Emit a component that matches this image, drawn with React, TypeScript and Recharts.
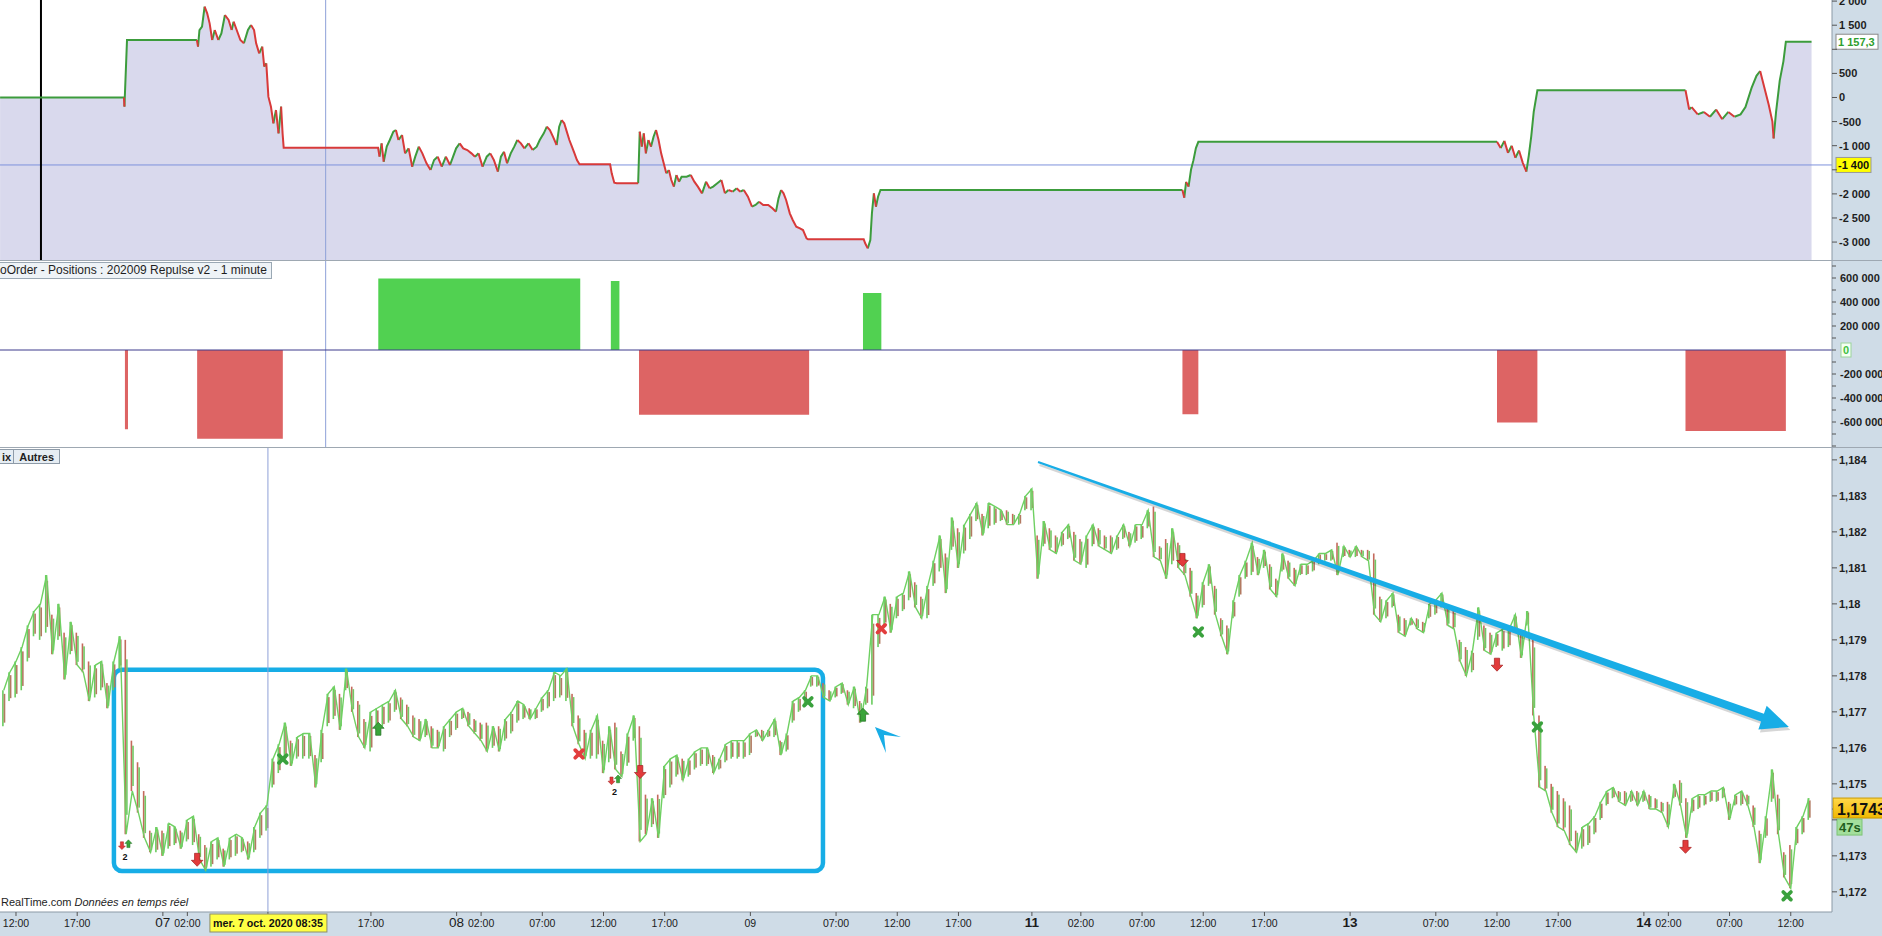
import React from 'react';
import {
  ComposedChart, Area, Line, Bar, Scatter, XAxis, YAxis,
  ReferenceLine, ReferenceArea, ReferenceDot,
} from 'recharts';

const FONT = "Arial, 'Liberation Sans', sans-serif";
const AXBG = '#cfdce7';
const T_MIN = -1.307;
const T_MAX = 148.37;

// ---- time axis (hours since Tue 6 Oct 12:00, weekend removed) ----
const xTickT = [0, 5, 12, 14, 20.583, 29, 36, 38, 43, 48, 53, 60, 67, 72, 77, 83, 87, 92, 97, 102, 109, 116, 121, 126, 133, 135, 140, 145];
const xTickLabels = ['12:00', '17:00', '07', '02:00', 'mer. 7 oct. 2020 08:35', '17:00', '08', '02:00', '07:00', '12:00', '17:00', '09', '07:00', '12:00', '17:00', '11', '02:00', '07:00', '12:00', '17:00', '13', '07:00', '12:00', '17:00', '14', '02:00', '07:00', '12:00'];
const xTickKinds = ['t', 't', 'd', 't', 'c', 't', 'd', 't', 't', 't', 't', 'n', 't', 't', 't', 'b', 't', 't', 't', 't', 'b', 't', 't', 't', 'b', 't', 't', 't'];

// ---- equity curve [hour, value] ----
const equityPts: [number, number][] = [
  [-1.3, 0], [8.82, 0], [8.86, -190], [9.07, 1193],
  [14.78, 1193], [14.87, 1055], [14.99, 1400], [15.2, 1470], [15.41, 1885], [15.62, 1746], [15.82, 1539], [16.03, 1193], [16.24, 1400], [16.53, 1193], [16.78, 1331], [17.07, 1712], [17.37, 1608], [17.62, 1400], [17.78, 1573], [18.03, 1400], [18.33, 1193], [18.62, 1124], [18.95, 1400], [19.2, 1504], [19.45, 1400], [19.62, 1124], [19.87, 916], [20.12, 1055], [20.28, 640], [20.45, 709], [20.62, 17], [20.83, -190], [21.03, -536], [21.24, -260], [21.45, -744], [21.66, -190], [21.78, -744], [21.87, -1041],
  [29.58, -1041], [29.7, -1228], [29.87, -951], [30.04, -1332], [30.29, -1020], [30.54, -882], [30.83, -709], [31.04, -675], [31.25, -882], [31.54, -778], [31.79, -1159], [32.08, -1055], [32.37, -1436], [32.62, -1228], [32.91, -1020], [33.2, -1159], [33.54, -1366], [33.87, -1505], [34.16, -1297], [34.45, -1228], [34.79, -1436], [35.12, -1228], [35.46, -1401], [35.71, -1228], [35.96, -1055], [36.25, -951], [36.54, -1055], [36.87, -1090], [37.21, -1159], [37.5, -1228], [37.79, -1159], [38.12, -1436], [38.46, -1228], [38.75, -1159], [39.04, -1297], [39.37, -1539], [39.62, -1228], [39.87, -1124], [40.12, -1366], [40.42, -1159], [40.71, -1020], [40.96, -882], [41.25, -951], [41.54, -1055], [41.87, -951], [42.21, -1090], [42.54, -1020], [42.79, -882], [43.12, -744], [43.37, -605], [43.62, -675], [43.87, -813], [44.17, -986], [44.38, -605], [44.58, -467], [44.79, -536], [45.0, -709], [45.21, -882], [45.42, -1020], [45.63, -1159], [45.83, -1297], [46.04, -1387],
  [48.54, -1387], [48.67, -1574], [48.88, -1767], [49.08, -1781],
  [50.83, -1781], [50.96, -709], [51.13, -1020], [51.29, -744], [51.46, -1159], [51.67, -882], [51.88, -1020], [52.09, -813], [52.29, -675], [52.5, -882], [52.71, -1159], [52.92, -1366], [53.13, -1574], [53.34, -1505], [53.54, -1712], [53.75, -1850], [53.96, -1608], [54.17, -1747], [54.38, -1643], [54.79, -1643], [55.13, -1608], [55.42, -1747], [55.71, -1850], [56.05, -1989], [56.38, -1747], [56.67, -1885], [56.96, -1850], [57.3, -1781], [57.63, -1712], [57.92, -1989], [58.21, -1920], [58.55, -1954], [58.88, -1885], [59.17, -1954], [59.46, -1920], [59.8, -2058], [60.13, -2266], [60.42, -2231], [60.71, -2162], [61.05, -2231], [61.46, -2231], [61.8, -2300], [62.09, -2369], [62.3, -2093], [62.51, -1920], [62.71, -1989], [62.92, -2127], [63.22, -2404], [63.46, -2542], [63.75, -2681], [64.05, -2715], [64.3, -2750], [64.59, -2923], [64.71, -2943],
  [69.26, -2943], [69.38, -3026], [69.59, -3130], [69.8, -2957], [69.93, -2404], [70.09, -1989], [70.26, -2266], [70.43, -2058], [70.63, -1920],
  [95.3, -1920], [95.45, -2080], [95.6, -1750], [95.8, -1850], [96.0, -1500], [96.2, -1300], [96.4, -1050], [96.6, -920],
  [121.0, -920], [121.3, -1050], [121.6, -900], [121.9, -1150], [122.2, -1000], [122.5, -1250], [122.8, -1100], [123.1, -1350], [123.4, -1540], [123.6, -1200], [123.8, -800], [124.0, -300], [124.3, 150],
  [136.4, 150], [136.7, -250], [136.9, -200], [137.4, -350], [137.9, -300], [138.4, -400], [138.9, -250], [139.4, -450], [139.9, -300], [140.4, -400], [140.9, -350], [141.3, -200], [141.8, 200], [142.2, 450], [142.5, 550], [142.8, 250], [143.2, -150], [143.5, -500], [143.6, -850], [143.8, -300], [144.1, 350], [144.4, 750], [144.6, 1157.3],
  [146.7, 1157.3],
];
const eqTicks = [-3000, -2500, -2000, -1500, -1000, -500, 0, 500, 1000, 1500, 2000];
const eqLast = 1157.3;
const eqRef = -1400;

// ---- positions [start hour, end hour, size] ----
const positions: [number, number, number][] = [
  [8.9, 9.15, -660000],
  [14.8, 21.8, -740000],
  [29.6, 46.1, 595000],
  [48.6, 49.3, 575000],
  [50.9, 64.8, -540000],
  [69.2, 70.7, 475000],
  [95.3, 96.6, -535000],
  [121.0, 124.3, -605000],
  [136.4, 144.6, -675000],
];
const posTicks = [-800000, -700000, -600000, -500000, -400000, -300000, -200000, -100000, 0, 100000, 200000, 300000, 400000, 500000, 600000, 700000];

// ---- price: half-hour [low, high] starting at hour -1 ----
const PRICE_T0 = -1;
const PRICE_STEP = 0.5;
const priceRanges: [number, number][] = [
  [1.1766, 1.1776], [1.1773, 1.1781], [1.1774, 1.1784], [1.1776, 1.1788], [1.1784, 1.1794], [1.1791, 1.1798], [1.179, 1.18], [1.1792, 1.1808], [1.1786, 1.1797], [1.179, 1.18],
  [1.1779, 1.1792], [1.1786, 1.1795], [1.1783, 1.1792], [1.1781, 1.1789], [1.1773, 1.1784], [1.1774, 1.1783], [1.1776, 1.1784], [1.1771, 1.1778], [1.1776, 1.1784], [1.1782, 1.1791],
  [1.1736, 1.179], [1.1748, 1.1762], [1.1742, 1.1756], [1.1735, 1.1748], [1.1731, 1.1737], [1.1731, 1.1738], [1.173, 1.1737], [1.1732, 1.1739], [1.1733, 1.1738], [1.1732, 1.1737],
  [1.1734, 1.174], [1.1733, 1.1741], [1.1729, 1.1736], [1.1726, 1.1733], [1.1727, 1.1734], [1.1729, 1.1735], [1.1727, 1.1732], [1.1729, 1.1735], [1.173, 1.1736], [1.1731, 1.1735],
  [1.1729, 1.1734], [1.1731, 1.1738], [1.1735, 1.1742], [1.1737, 1.1744], [1.1749, 1.1757], [1.1753, 1.1761], [1.1756, 1.1767], [1.1755, 1.1762], [1.1757, 1.1763], [1.1757, 1.1764],
  [1.1757, 1.1764], [1.1749, 1.1758], [1.1756, 1.1765], [1.1766, 1.1775], [1.1768, 1.1777], [1.1765, 1.1775], [1.1776, 1.1782], [1.177, 1.1777], [1.1763, 1.1773], [1.176, 1.1768],
  [1.1759, 1.177], [1.1765, 1.1771], [1.1766, 1.1772], [1.1767, 1.1773], [1.177, 1.1776], [1.1768, 1.1774], [1.1766, 1.1772], [1.1763, 1.1769], [1.1762, 1.1768], [1.1763, 1.1768],
  [1.176, 1.1766], [1.176, 1.1765], [1.1759, 1.1766], [1.1763, 1.1768], [1.1765, 1.177], [1.1768, 1.1771], [1.1766, 1.177], [1.1764, 1.1768], [1.1762, 1.1767], [1.1759, 1.1767],
  [1.176, 1.1766], [1.1759, 1.1766], [1.1762, 1.1768], [1.1764, 1.177], [1.1767, 1.1773], [1.1768, 1.1772], [1.1768, 1.1771], [1.1768, 1.1771], [1.177, 1.1774], [1.1771, 1.1776],
  [1.1773, 1.1781], [1.1774, 1.178], [1.1773, 1.1782], [1.1766, 1.1775], [1.1761, 1.1769], [1.1757, 1.1765], [1.1757, 1.1765], [1.1757, 1.1769], [1.1753, 1.1762], [1.1756, 1.1766],
  [1.1754, 1.1767], [1.1752, 1.1759], [1.1755, 1.1764], [1.1762, 1.1769], [1.1734, 1.1766], [1.1736, 1.1747], [1.1738, 1.1746], [1.1735, 1.1747], [1.1746, 1.1755], [1.1749, 1.1757],
  [1.1752, 1.1758], [1.1751, 1.1757], [1.1752, 1.1757], [1.1754, 1.1759], [1.1755, 1.176], [1.1755, 1.176], [1.1753, 1.1758], [1.1754, 1.1757], [1.1756, 1.1761], [1.1757, 1.1762],
  [1.1757, 1.1762], [1.1757, 1.1762], [1.1758, 1.1764], [1.1763, 1.1765], [1.1762, 1.1765], [1.1763, 1.1765], [1.1763, 1.1768], [1.1758, 1.1762], [1.1759, 1.1764], [1.1767, 1.1773],
  [1.177, 1.1774], [1.1772, 1.1776], [1.1777, 1.178], [1.1777, 1.178], [1.1774, 1.1778], [1.1773, 1.1776], [1.1774, 1.1777], [1.1775, 1.1778], [1.1772, 1.1776], [1.1771, 1.1777],
  [1.1767, 1.1773], [1.1772, 1.1777], [1.1772, 1.1797], [1.1788, 1.1797], [1.1794, 1.1802], [1.1792, 1.18], [1.1796, 1.1802], [1.1798, 1.1803], [1.1801, 1.1809], [1.1799, 1.1806],
  [1.1796, 1.1802], [1.1796, 1.1805], [1.1805, 1.1812], [1.1809, 1.1819], [1.1803, 1.1814], [1.1815, 1.1824], [1.181, 1.1821], [1.1814, 1.1822], [1.1818, 1.1825], [1.1823, 1.1828],
  [1.1819, 1.1825], [1.1821, 1.1828], [1.1822, 1.1827], [1.1823, 1.1826], [1.1822, 1.1826], [1.1822, 1.1825], [1.1822, 1.1825], [1.1826, 1.183], [1.1826, 1.1832], [1.1807, 1.1819],
  [1.1816, 1.1823], [1.1815, 1.1821], [1.1814, 1.1819], [1.1816, 1.182], [1.1818, 1.1822], [1.1812, 1.182], [1.1811, 1.1818], [1.181, 1.1819], [1.1816, 1.1822], [1.1816, 1.1821],
  [1.1815, 1.1819], [1.1814, 1.1819], [1.1815, 1.1819], [1.1818, 1.1822], [1.1816, 1.182], [1.1817, 1.1822], [1.1818, 1.1822], [1.1821, 1.1826], [1.1813, 1.1827], [1.1812, 1.1816],
  [1.1807, 1.1818], [1.1811, 1.1821], [1.181, 1.1817], [1.1808, 1.1813], [1.1802, 1.181], [1.1796, 1.1803], [1.1799, 1.1806], [1.1805, 1.1811], [1.1797, 1.1805], [1.1791, 1.1796],
  [1.1786, 1.1794], [1.1796, 1.1801], [1.1802, 1.1808], [1.1807, 1.1812], [1.1808, 1.1817], [1.1808, 1.1813], [1.181, 1.1815], [1.1804, 1.1811], [1.1802, 1.1807], [1.1809, 1.1814],
  [1.1807, 1.1812], [1.1805, 1.181], [1.1808, 1.1811], [1.1808, 1.1811], [1.1809, 1.1812], [1.1811, 1.1814], [1.1812, 1.1814], [1.1812, 1.1815], [1.1808, 1.1817], [1.1813, 1.1816],
  [1.1813, 1.1815], [1.1813, 1.1816], [1.1813, 1.1815], [1.1812, 1.1815], [1.1797, 1.1814], [1.1795, 1.1802], [1.1796, 1.1801], [1.1799, 1.1803], [1.1792, 1.1797], [1.1791, 1.1796],
  [1.1794, 1.1796], [1.1793, 1.1796], [1.1792, 1.1795], [1.1796, 1.18], [1.1797, 1.1801], [1.1799, 1.1803], [1.1794, 1.1799], [1.1793, 1.1798], [1.1784, 1.179], [1.178, 1.1788],
  [1.1781, 1.1787], [1.179, 1.1799], [1.1787, 1.1794], [1.1786, 1.1792], [1.1788, 1.1792], [1.1787, 1.1793], [1.1788, 1.1793], [1.1792, 1.1797], [1.1785, 1.1792], [1.1794, 1.1798],
  [1.1769, 1.179], [1.1749, 1.1769], [1.1748, 1.1755], [1.1742, 1.175], [1.1738, 1.1748], [1.1737, 1.1746], [1.1733, 1.1744], [1.1731, 1.1737], [1.1732, 1.1738], [1.1733, 1.1739],
  [1.1736, 1.1741], [1.174, 1.1745], [1.1744, 1.1748], [1.1746, 1.1749], [1.1745, 1.1748], [1.1744, 1.1748], [1.1745, 1.1748], [1.1744, 1.1748], [1.1745, 1.1748], [1.1743, 1.1747],
  [1.1743, 1.1746], [1.1742, 1.1745], [1.1738, 1.1745], [1.1746, 1.175], [1.1744, 1.1751], [1.1735, 1.1746], [1.1742, 1.1746], [1.1743, 1.1747], [1.1744, 1.1747], [1.1745, 1.1748],
  [1.1745, 1.1748], [1.1746, 1.1749], [1.174, 1.1745], [1.1744, 1.1747], [1.1744, 1.1748], [1.1744, 1.1747], [1.1738, 1.1744], [1.1728, 1.1737], [1.1735, 1.1741], [1.1745, 1.1754],
  [1.1736, 1.1747], [1.1724, 1.1731], [1.1721, 1.1733], [1.1733, 1.1738], [1.1736, 1.1741], [1.174, 1.1746],
];
const priceTicks = [1.172, 1.173, 1.174, 1.175, 1.176, 1.177, 1.178, 1.179, 1.18, 1.181, 1.182, 1.183, 1.184];
const lastPrice = 1.1743;

// ---- trade markers on price ----
const markers = [
  { t: 8.9, p: 1.17331, kind: 'pair' },
  { t: 14.8, p: 1.17289, kind: 'down' },
  { t: 21.8, p: 1.17569, kind: 'xg' },
  { t: 29.6, p: 1.17653, kind: 'up' },
  { t: 46.0, p: 1.17583, kind: 'xr' },
  { t: 48.9, p: 1.17511, kind: 'pair' },
  { t: 51.0, p: 1.17533, kind: 'down' },
  { t: 64.7, p: 1.17728, kind: 'xg' },
  { t: 69.2, p: 1.17692, kind: 'up' },
  { t: 70.7, p: 1.17931, kind: 'xr' },
  { t: 95.3, p: 1.18122, kind: 'down' },
  { t: 96.6, p: 1.17922, kind: 'xg' },
  { t: 121.0, p: 1.17831, kind: 'down' },
  { t: 124.3, p: 1.17658, kind: 'xg' },
  { t: 136.4, p: 1.17325, kind: 'down' },
  { t: 144.7, p: 1.17189, kind: 'xg' },
];

// drawings
const boxArea = { t1: 8.0, t2: 65.93, p1: 1.17258, p2: 1.17817 };
const trendArrow = [{ x: 83.5, y: 1.18394 }, { x: 144.85, y: 1.17658 }];
const chevronAt = { t: 70.18, p: 1.17658 };

// ---------- derived rows ----------
const eqRows = equityPts.map(([t, v]) => ({ t, v }));
function splitByDirection(pts: [number, number][]) {
  const lists: Record<string, { t: number; v: number | null }[]> = { g: [], r: [] };
  let cur: string | null = null;
  let prevDir = 'g';
  for (let i = 0; i < pts.length - 1; i++) {
    const [t0, v0] = pts[i];
    const [t1, v1] = pts[i + 1];
    const dir = v1 > v0 ? 'g' : v1 < v0 ? 'r' : prevDir;
    prevDir = dir;
    if (dir !== cur) {
      if (cur) lists[cur].push({ t: t0, v: null });
      lists[dir].push({ t: t0, v: v0 });
      cur = dir;
    }
    lists[dir].push({ t: t1, v: v1 });
  }
  return lists;
}
const eqSplit = splitByDirection(equityPts);

function blocksToRows(sign: number) {
  const rows: { t: number; v: number }[] = [];
  positions.filter((b) => Math.sign(b[2]) === sign).forEach(([a, b, v]) => {
    rows.push({ t: a, v: 0 }, { t: a, v }, { t: b, v }, { t: b, v: 0 });
  });
  return rows;
}
const posGreen = blocksToRows(1);
const posRed = blocksToRows(-1);

// zig-zag path through each bar's extremes (low→high when rising, high→low when falling)
const priceRows = priceRanges.map((r, i) => {
  const prev = i > 0 ? priceRanges[i - 1] : r;
  const up = r[0] + r[1] >= prev[0] + prev[1];
  return { t: PRICE_T0 + i * PRICE_STEP, range: r, up, close: up ? r[1] : r[0] };
});

// ---------- helpers ----------
const fmtSpace = (v: number) => {
  const s = Math.abs(Math.round(v)).toString().replace(/\B(?=(\d{3})+(?!\d))/g, ' ');
  return (v < 0 ? '-' : '') + s;
};
const fmtPrice = (v: number) => parseFloat(v.toFixed(4)).toString().replace('.', ',');
const yTickStyle = { fontSize: 11, fontWeight: 700, fill: '#1e1e1e', fontFamily: FONT };
const axisLine = { stroke: '#8b99a6' };
const tickLine = { stroke: '#555' };

// tick labels hidden behind value boxes
const eqHidden = [1000, -1500];
const priceHidden = [1.174];

const EqTick = (props: any) => {
  const { x, y, payload } = props;
  if (eqHidden.includes(payload.value)) return null;
  return <text x={x} y={y} dy="0.36em" {...yTickStyle}>{fmtSpace(payload.value)}</text>;
};
const PriceTick = (props: any) => {
  const { x, y, payload } = props;
  if (priceHidden.some((h) => Math.abs(h - payload.value) < 1e-7)) return null;
  return <text x={x} y={y} dy="0.36em" {...yTickStyle}>{fmtPrice(payload.value)}</text>;
};

const AxisBox = (props: any) => {
  const { viewBox, text, bg, color, border, w, h = 14, fs = 11 } = props;
  if (!viewBox) return null;
  const x = viewBox.x + viewBox.width;
  const y = viewBox.y;
  return (
    <g>
      <rect x={x + 4} y={y - h / 2} width={w} height={h} fill={bg} stroke={border} />
      <text x={x + 6} y={y} dy="0.36em" fontSize={fs} fontWeight={700} fill={color} fontFamily={FONT}>{text}</text>
    </g>
  );
};

const PriceBox = (props: any) => {
  const { viewBox } = props;
  if (!viewBox) return null;
  const x = viewBox.x + viewBox.width;
  const y = viewBox.y;
  return (
    <g>
      <defs>
        <linearGradient id="goldg" x1="0" y1="0" x2="0" y2="1">
          <stop offset="0" stopColor="#ffd84a" />
          <stop offset="1" stopColor="#f0b800" />
        </linearGradient>
      </defs>
      <line x1={x} y1={y} x2={x + 5} y2={y} stroke="#000" />
      <rect x={x + 1} y={y - 11} width={60} height={20} fill="url(#goldg)" stroke="#c99a00" />
      <text x={x + 5} y={y} dy="0.36em" fontSize={16} fontWeight={700} fill="#111" fontFamily={FONT}>{fmtPrice(lastPrice)}</text>
      <rect x={x + 5} y={y + 10} width={25} height={16} fill="#a3df9c" stroke="#7cc476" />
      <text x={x + 7} y={y + 18} dy="0.36em" fontSize={13} fontWeight={700} fill="#1e5e1e" fontFamily={FONT}>47s</text>
    </g>
  );
};

const MidTick = (props: any) => {
  const { x, y, payload } = props;
  const v = payload.value;
  if (v === 0) {
    return (
      <g>
        <rect x={x + 3} y={y - 7} width={10} height={14} fill="#f4fff2" stroke="#9bd39b" />
        <text x={x + 5} y={y} dy="0.36em" fontSize={11} fontWeight={700} fill="#3fbf3f" fontFamily={FONT}>0</text>
      </g>
    );
  }
  if (v % 200000 !== 0 || Math.abs(v) > 600000) return null;
  return <text x={x + 2} y={y} dy="0.36em" {...yTickStyle}>{fmtSpace(v)}</text>;
};

const XTick = (props: any) => {
  const { x, y, payload } = props;
  const idx = xTickT.findIndex((t) => Math.abs(t - payload.value) < 1e-6);
  if (idx < 0) return null;
  const lab = xTickLabels[idx];
  const kind = xTickKinds[idx];
  const base = y + 9;
  if (kind === 'c') {
    return (
      <g>
        <rect x={x - 58} y={y - 4} width={117} height={18} fill="#ffff44" stroke="#8c8c6a" />
        <text x={x} y={base} textAnchor="middle" fontSize={11} fontWeight={700} fill="#111" fontFamily={FONT} textLength={110} lengthAdjust="spacingAndGlyphs">{lab}</text>
      </g>
    );
  }
  const big = kind === 'd' || kind === 'b';
  return (
    <text x={x} y={base} textAnchor="middle" fontSize={big ? 13.5 : 10.5} fontWeight={kind === 'b' ? 700 : 400} fill="#1b1b1b" fontFamily={FONT}>{lab}</text>
  );
};

const Candle = (props: any) => {
  const { x, y, width, height, payload } = props;
  if (x == null || y == null || !payload) return null;
  const top = height < 0 ? y + height : y;
  const h = Math.max(1, Math.abs(height));
  const cx = x + (width || 0) / 2;
  const up = payload.up;
  return (
    <g>
      <rect x={cx - 1.6} y={top} width={1.6} height={h} fill={up ? '#6bcc5f' : '#c46a5c'} />
      <rect x={cx} y={top + h * 0.1} width={1.6} height={h * 0.8} fill={up ? '#b27a62' : '#72c865'} />
    </g>
  );
};

const arrowPoints = (cx: number, cy: number, dir: number, s: number) => {
  const hw = 2.6 * s, HW = 5.8 * s, h = 6.5 * s, neck = 0.5 * s;
  return [
    [cx - hw, cy - dir * h], [cx + hw, cy - dir * h], [cx + hw, cy + dir * neck], [cx + HW, cy + dir * neck],
    [cx, cy + dir * h], [cx - HW, cy + dir * neck], [cx - hw, cy + dir * neck],
  ].map((q) => q.join(',')).join(' ');
};

const Marker = (props: any) => {
  const { cx, cy, payload } = props;
  if (cx == null || cy == null) return null;
  const k = payload.kind;
  if (k === 'down') return <polygon points={arrowPoints(cx, cy, 1, 1)} fill="#e23b3b" stroke="#a32020" strokeWidth={0.7} />;
  if (k === 'up') return <polygon points={arrowPoints(cx, cy, -1, 1)} fill="#3aa53a" stroke="#1f6e1f" strokeWidth={0.7} />;
  if (k === 'xg' || k === 'xr') {
    const c = k === 'xg' ? '#3aa13d' : '#e23d3d';
    return (
      <g stroke={c} strokeWidth={3.8} strokeLinecap="round">
        <line x1={cx - 3.8} y1={cy - 3.8} x2={cx + 3.8} y2={cy + 3.8} />
        <line x1={cx - 3.8} y1={cy + 3.8} x2={cx + 3.8} y2={cy - 3.8} />
      </g>
    );
  }
  return (
    <g>
      <polygon points={arrowPoints(cx - 3, cy + 1, 1, 0.6)} fill="#e23b3b" stroke="#a32020" strokeWidth={0.5} />
      <polygon points={arrowPoints(cx + 3.5, cy - 1, -1, 0.6)} fill="#3aa53a" stroke="#1f6e1f" strokeWidth={0.5} />
      <text x={cx} y={cy + 15} textAnchor="middle" fontSize={9} fontWeight={700} fill="#111" fontFamily={FONT}>2</text>
    </g>
  );
};

const BigArrow = (p: any) => {
  const { x1, y1, x2, y2 } = p;
  if ([x1, y1, x2, y2].some((v) => v == null || isNaN(v))) return null;
  const dx = x2 - x1, dy = y2 - y1, L = Math.hypot(dx, dy);
  const ux = dx / L, uy = dy / L, nx = -uy, ny = ux;
  const headL = 28, headW = 12.5, w0 = 1.1, w1 = 4.2;
  const bx = x2 - ux * headL, by = y2 - uy * headL;
  const pts = [
    [x1 + nx * w0, y1 + ny * w0], [bx + nx * w1, by + ny * w1], [bx + nx * headW, by + ny * headW], [x2, y2],
    [bx - nx * headW, by - ny * headW], [bx - nx * w1, by - ny * w1], [x1 - nx * w0, y1 - ny * w0],
  ];
  const d = (ox: number, oy: number) => pts.map((q) => `${q[0] + ox},${q[1] + oy}`).join(' ');
  return (
    <g>
      <polygon points={d(1.5, 3)} fill="rgba(0,0,0,0.16)" />
      <polygon points={d(0, 0)} fill="#18ade6" />
    </g>
  );
};

const Chevron = (p: any) => {
  const { cx, cy } = p;
  if (cx == null || cy == null) return null;
  const pts = [[0, 0], [26, 10], [9, 8], [11, 26]].map((q) => `${cx + q[0]},${cy + q[1]}`).join(' ');
  return <polygon points={pts} fill="#18ade6" />;
};

const M0 = { top: 0, right: 0, bottom: 0, left: 0 };

function TopChart() {
  return (
    <ComposedChart width={1882} height={260} data={eqRows} margin={M0}>
      <XAxis type="number" dataKey="t" domain={[T_MIN, T_MAX]} allowDataOverflow hide />
      <YAxis orientation="right" width={50} domain={[-3372, 2023]} allowDataOverflow ticks={eqTicks} interval={0}
        tick={<EqTick />} tickSize={5} tickMargin={2} axisLine={axisLine} tickLine={tickLine} />
      <Area dataKey="v" type="linear" stroke="none" fill="#d9d9ed" fillOpacity={1} baseValue="dataMin" dot={false} activeDot={false} isAnimationActive={false} />
      <ReferenceLine y={eqRef} stroke="#7d92dc" />
      <ReferenceLine x={25.3} stroke="#8ea0d8" />
      <ReferenceLine x={2.04} stroke="#000" strokeWidth={2} />
      <Line data={eqSplit.g} dataKey="v" type="linear" stroke="#3c9c3c" strokeWidth={2} dot={false} activeDot={false} isAnimationActive={false} />
      <Line data={eqSplit.r} dataKey="v" type="linear" stroke="#d83a3a" strokeWidth={2} dot={false} activeDot={false} isAnimationActive={false} />
      <ReferenceLine y={eqLast} stroke="none" label={<AxisBox text="1 157,3" bg="#ffffff" color="#2e9e2e" border="#8a8a8a" w={42} h={15} />} />
      <ReferenceLine y={eqRef} stroke="none" label={<AxisBox text="-1 400" bg="#ffff00" color="#111" border="#999" w={35} h={15} />} />
    </ComposedChart>
  );
}

function MidChart() {
  return (
    <ComposedChart width={1882} height={186} margin={M0}>
      <XAxis type="number" dataKey="t" domain={[T_MIN, T_MAX]} allowDataOverflow hide />
      <YAxis orientation="right" width={50} domain={[-808333, 741667]} allowDataOverflow ticks={posTicks} interval={0}
        tick={<MidTick />} tickSize={4} tickMargin={2} axisLine={axisLine} tickLine={tickLine} />
      <ReferenceLine x={25.3} stroke="#8ea0d8" />
      <Area data={posGreen} dataKey="v" type="linear" stroke="none" fill="#51d151" fillOpacity={1} isAnimationActive={false} />
      <Area data={posRed} dataKey="v" type="linear" stroke="none" fill="#dd6464" fillOpacity={1} isAnimationActive={false} />
      <ReferenceLine y={0} stroke="#3c3a8c" />
    </ComposedChart>
  );
}

function PriceChart() {
  return (
    <ComposedChart width={1882} height={488} data={priceRows} margin={M0}>
      <XAxis type="number" dataKey="t" domain={[T_MIN, T_MAX]} allowDataOverflow ticks={xTickT} interval={0}
        tick={<XTick />} height={24} tickSize={4} tickMargin={2} axisLine={axisLine} tickLine={tickLine} />
      <YAxis orientation="right" width={50} domain={[1.17144, 1.18433]} allowDataOverflow ticks={priceTicks} interval={0}
        tick={<PriceTick />} tickSize={5} tickMargin={2} axisLine={axisLine} tickLine={tickLine} />
      <ReferenceLine x={20.583} stroke="#8ea0d8" />
      <Line dataKey="close" type="linear" stroke="#6fd062" strokeWidth={1.4} dot={false} activeDot={false} isAnimationActive={false} />
      <Bar dataKey="range" barSize={5} shape={<Candle />} isAnimationActive={false} />
      <ReferenceArea x1={boxArea.t1} x2={boxArea.t2} y1={boxArea.p1} y2={boxArea.p2} fill="none" fillOpacity={0}
        stroke="#17ade6" strokeWidth={4.5} radius={8} ifOverflow="visible" />
      <ReferenceLine segment={trendArrow} shape={BigArrow} ifOverflow="visible" />
      <ReferenceDot x={chevronAt.t} y={chevronAt.p} shape={Chevron} ifOverflow="visible" />
      <Scatter data={markers} dataKey="p" shape={Marker} isAnimationActive={false} />
      <ReferenceLine y={lastPrice} stroke="none" label={<PriceBox />} />
    </ComposedChart>
  );
}

export default function App() {
  return (
    <div style={{ position: 'fixed', left: 0, top: 0, width: 1882, height: 936, background: '#fff', overflow: 'hidden', fontFamily: FONT }}>
      <div style={{ position: 'absolute', left: 1832, top: 0, width: 50, height: 936, background: AXBG }} />
      <div style={{ position: 'absolute', left: 0, top: 912, width: 1882, height: 24, background: AXBG }} />
      <div style={{ position: 'absolute', left: 0, top: 0 }}><TopChart /></div>
      <div style={{ position: 'absolute', left: 0, top: 260, width: 1882, height: 1, background: '#9ea8b2' }} />
      <div style={{ position: 'absolute', left: 0, top: 261 }}><MidChart /></div>
      <div style={{ position: 'absolute', left: 0, top: 447, width: 1882, height: 1, background: '#9ea8b2' }} />
      <div style={{ position: 'absolute', left: 0, top: 448 }}><PriceChart /></div>
      <div style={{ position: 'absolute', left: 0, top: 262, height: 15, lineHeight: '15px', padding: '0 4px 0 0', background: '#eef3f7', border: '1px solid #9aa8b4', borderLeft: 'none', fontSize: 12, color: '#1e1e1e', whiteSpace: 'nowrap' }}>
        oOrder - Positions : 202009 Repulse v2 - 1 minute
      </div>
      <div style={{ position: 'absolute', left: 0, top: 449, height: 15, display: 'flex', fontSize: 11, fontWeight: 700, color: '#1e1e1e', lineHeight: '15px' }}>
        <div style={{ padding: '0 2px', background: '#e6edf3', border: '1px solid #8e9ba8', borderLeft: 'none' }}>ix</div>
        <div style={{ padding: '0 5px', background: '#e6edf3', border: '1px solid #8e9ba8', borderLeft: 'none' }}>Autres</div>
      </div>
      <div style={{ position: 'absolute', left: 1, top: 896, fontSize: 11, color: '#1e1e1e', whiteSpace: 'nowrap' }}>
        RealTime.com <i>Données en temps réel</i>
      </div>
    </div>
  );
}
